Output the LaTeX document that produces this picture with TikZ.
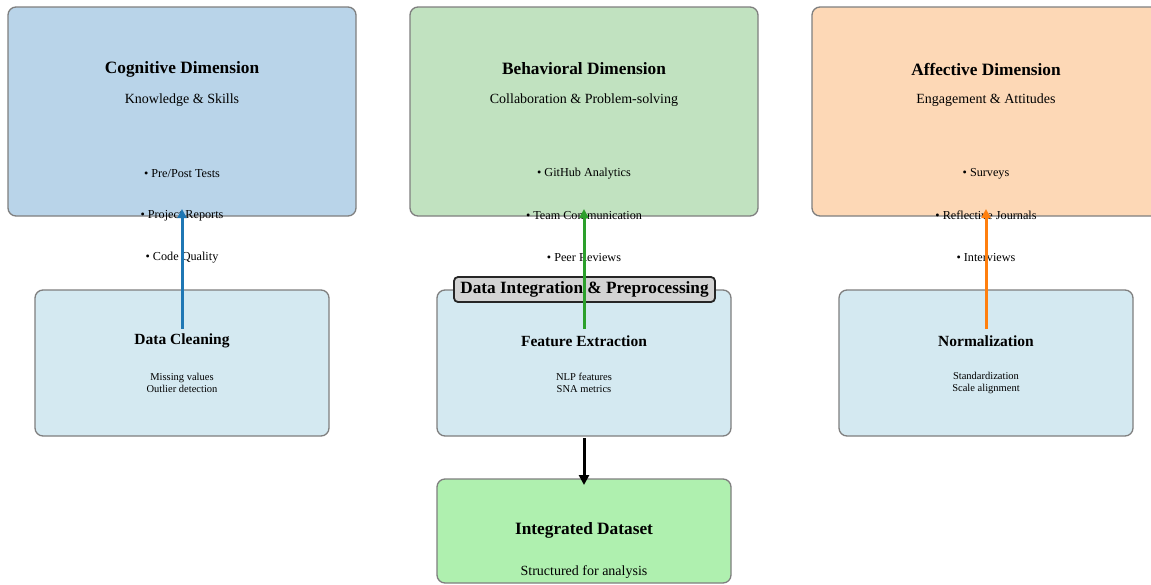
\documentclass[tikz,border=0pt]{standalone}
\usepackage{fontspec}
\setmainfont{Liberation Serif}
\usetikzlibrary{arrows.meta}
\definecolor{cogfill}{HTML}{B9D4E9}
\definecolor{behfill}{HTML}{C1E2C0}
\definecolor{afffill}{HTML}{FDD8B6}
\definecolor{procfill}{HTML}{D4E9F1}
\definecolor{intfill}{HTML}{AFF0AF}
\definecolor{edgegray}{HTML}{7F7F7F}
\definecolor{labfill}{HTML}{D3D3D3}
\definecolor{tabblue}{HTML}{1F77B4}
\definecolor{tabgreen}{HTML}{2CA02C}
\definecolor{taborange}{HTML}{FF7F0E}
\tikzset{
  dimbox/.style={draw=edgegray, line width=1.3pt, rounded corners=8pt, minimum width=348pt, minimum height=209pt, inner sep=0pt},
  procbox/.style={draw=edgegray, line width=1.3pt, rounded corners=8pt, fill=procfill, minimum width=294pt, minimum height=146pt, inner sep=0pt},
  intbox/.style={draw=edgegray, line width=1.3pt, rounded corners=8pt, fill=intfill, minimum width=294pt, minimum height=104pt, inner sep=0pt},
  titletext/.style={font=\fontsize{17.3}{20}\selectfont\bfseries, inner sep=0pt},
  subtext/.style={font=\fontsize{14}{16}\selectfont, inner sep=0pt},
  bullettext/.style={font=\fontsize{12.2}{14}\selectfont, inner sep=0pt},
  smalltext/.style={font=\fontsize{10.5}{12.5}\selectfont, align=center, inner sep=0pt},
  proctitle/.style={font=\fontsize{15.5}{18}\selectfont\bfseries, inner sep=0pt},
  labelbox/.style={draw=black!85, line width=1.8pt, rounded corners=4pt, fill=labfill, font=\fontsize{17.2}{20}\selectfont\bfseries, minimum width=261pt, minimum height=25pt, inner sep=0pt},
  uparrow/.style={line width=3pt, -{Triangle[length=9pt,width=9pt]}},
  downarrow/.style={line width=3pt, black, -{Triangle[length=10pt,width=10pt]}}
}
\begin{document}
\begin{tikzpicture}[x=1pt,y=-1pt]
\useasboundingbox (0,0) rectangle (1151,584);
\clip (0,0) rectangle (1151,584);
\fill[white] (0,0) rectangle (1151,584);
% dimension boxes
\node[dimbox, fill=cogfill] (cog) at (182,111.5) {};
\node[dimbox, fill=behfill] (beh) at (584,111.5) {};
\node[dimbox, fill=afffill] (aff) at (986,111.5) {};
\node[titletext] (cogt) at (182,69) {Cognitive Dimension};
\node[subtext] (cogs) at (182,100.5) {Knowledge \& Skills};
\node[titletext] (beht) at (584,69) {Behavioral Dimension};
\node[subtext] (behs) at (584,100.5) {Collaboration \& Problem-solving};
\node[titletext] (afft) at (986,69) {Affective Dimension};
\node[subtext] (affs) at (986,100.5) {Engagement \& Attitudes};
% bullets
\node[bullettext] (c1) at (182,173.5) {• Pre/Post Tests};
\node[bullettext] (c2) at (182,215.5) {• Project Reports};
\node[bullettext] (c3) at (182,257.5) {• Code Quality};
\node[bullettext] (b1) at (584,173.5) {• GitHub Analytics};
\node[bullettext] (b2) at (584,215.5) {• Team Communication};
\node[bullettext] (b3) at (584,257.5) {• Peer Reviews};
\node[bullettext] (a1) at (986,173.5) {• Surveys};
\node[bullettext] (a2) at (986,215.5) {• Reflective Journals};
\node[bullettext] (a3) at (986,257.5) {• Interviews};
% processing boxes
\node[procbox] (clean) at (182,363) {};
\node[procbox] (feat) at (584,363) {};
\node[procbox] (norm) at (986,363) {};
\node[proctitle] (cleant) at (182,341) {Data Cleaning};
\node[smalltext] (cleans) at (182,383) {Missing values\\Outlier detection};
\node[proctitle] (featt) at (584,341) {Feature Extraction};
\node[smalltext] (feats) at (584,383) {NLP features\\SNA metrics};
\node[proctitle] (normt) at (986,341) {Normalization};
\node[smalltext] (norms) at (986,383) {Standardization\\Scale alignment};
\node[labelbox] (lab) at (584.5,289.5) {Data Integration \& Preprocessing};
% integrated
\node[intbox] (ds) at (584,531) {};
\node[titletext] (dst) at (584,530) {Integrated Dataset};
\node[font=\fontsize{14}{16}\selectfont, inner sep=0pt] (dss) at (584,572) {Structured for analysis};
% connector coordinates
\coordinate (cs) at (182,329);
\coordinate (ce) at (182,209);
\coordinate (bs) at (584,329);
\coordinate (be) at (584,209);
\coordinate (as) at (986,329);
\coordinate (ae) at (986,209);
\coordinate (fs) at (584,438);
\coordinate (fe) at (584,485);
\draw[uparrow, tabblue] (cs) -- (ce);
\draw[uparrow, tabgreen] (bs) -- (be);
\draw[uparrow, taborange] (as) -- (ae);
\draw[downarrow] (fs) -- (fe);
\end{tikzpicture}
\end{document}
